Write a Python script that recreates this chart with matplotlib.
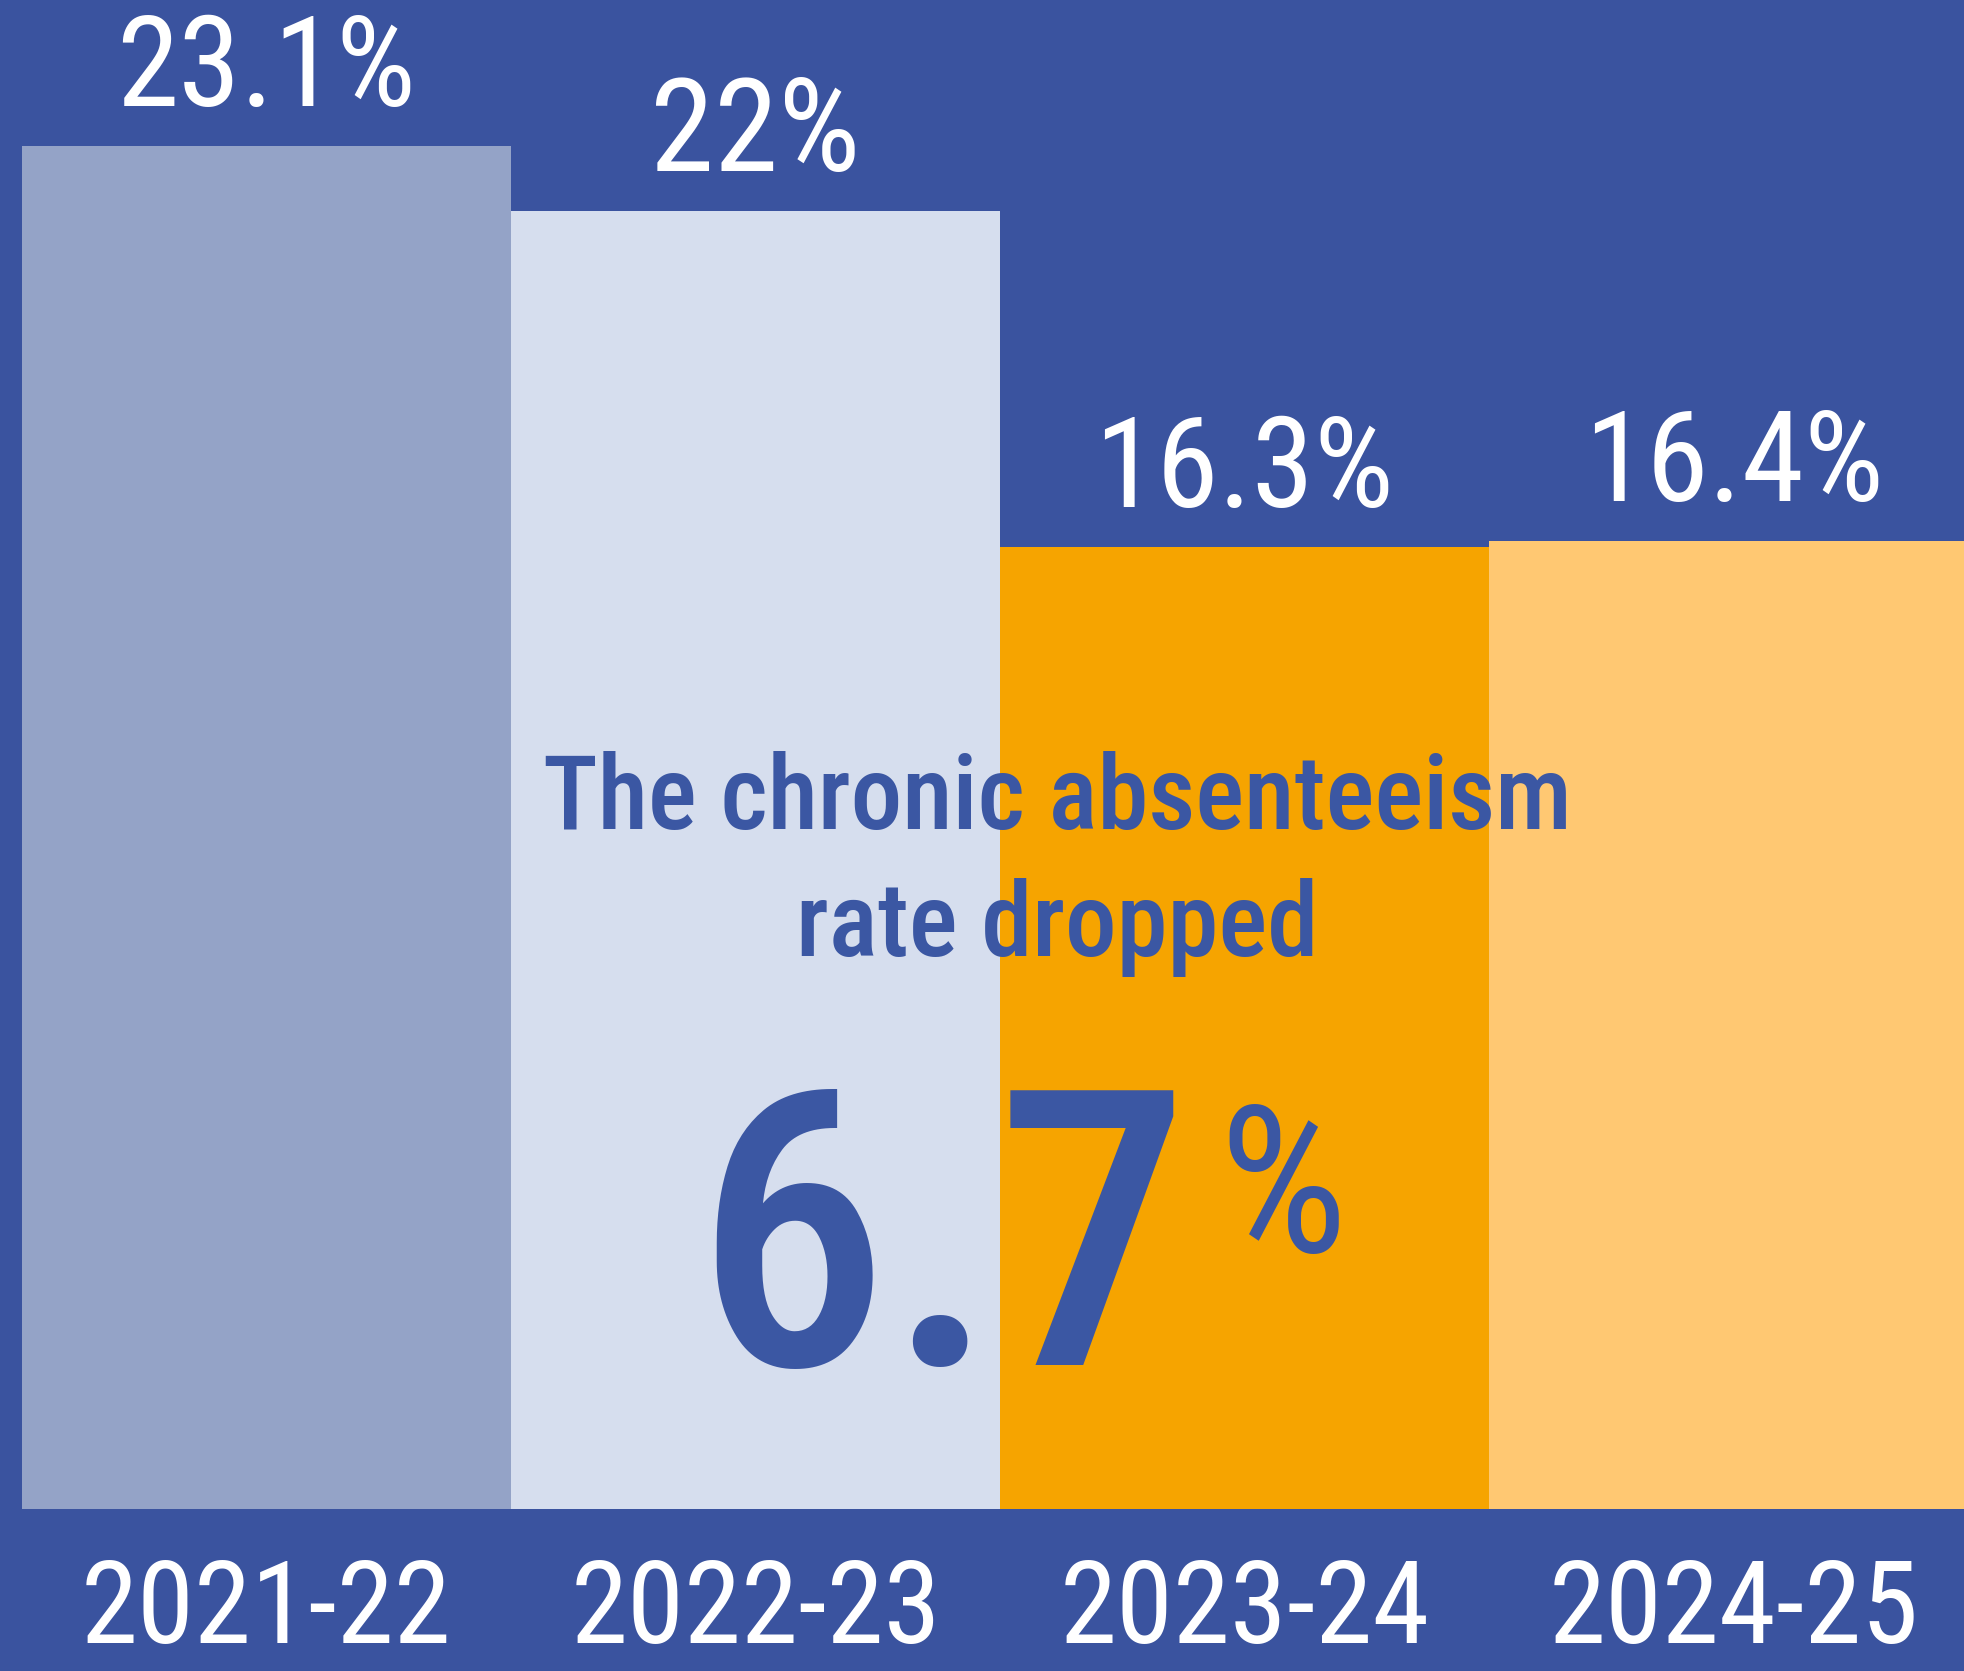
import os
import matplotlib
matplotlib.use("Agg")
import matplotlib.pyplot as plt
from matplotlib import font_manager as fm

# Chronic absenteeism rate by school year
years = ["2021-22", "2022-23", "2023-24", "2024-25"]
rates = [23.1, 22.0, 16.3, 16.4]
rate_labels = ["23.1%", "22%", "16.3%", "16.4%"]
bar_colors = ["#94A3C7", "#D6DEEE", "#F6A400", "#FFC872"]

headline_lines = ["The chronic absenteeism", "rate dropped"]
drop_value = "6.7"

BG = "#3A539F"
INK = "#3B57A3"


def pick_font(prefs):
    """Return the first condensed sans face found; fall back to DejaVu Sans."""
    files = sorted({f.fname for f in fm.fontManager.ttflist})
    for p in prefs:
        for f in files:
            if p in os.path.basename(f).lower().replace("_", ""):
                return fm.FontProperties(fname=f)
    return fm.FontProperties(family="DejaVu Sans")


FP_MED = pick_font(["robotocondensed-medium", "robotocondensed-regular",
                    "liberationsansnarrow-regular", "dejavusanscondensed.ttf"])
FP_REG = pick_font(["robotocondensed-regular", "robotocondensed-medium",
                    "liberationsansnarrow-regular", "dejavusanscondensed.ttf"])

W, H, DPI = 1964, 1671, 100
fig = plt.figure(figsize=(W / DPI, H / DPI), dpi=DPI, facecolor=BG)
ax = fig.add_axes([0, 0, 1, 1])
ax.set_facecolor(BG)

x = list(range(len(years)))
ax.bar(x, rates, width=1.0, color=bar_colors, linewidth=0, zorder=2)

# scale: ~59 px per percentage point, baseline 162 px above bottom edge
ax.set_ylim(-162 / 59, (H - 162) / 59)
ax.set_xlim(-266.5 / 489, -266.5 / 489 + W / 489)
ax.axis("off")

renderer = fig.canvas.get_renderer()


def fit(t, width_px, cap_px, slack):
    """Size a text by its cap height, shrinking it if it gets too wide."""
    size = cap_px / 0.71 * 72 / DPI
    t.set_fontsize(size)
    w = t.get_window_extent(renderer).width
    if w > width_px * slack:
        size *= width_px * slack / w
        t.set_fontsize(size)
    return size


for xi, v, lab in zip(x, rates, rate_labels):
    t = ax.annotate(lab, (xi, v), xytext=(0, 40), textcoords="offset pixels",
                    ha="center", va="baseline", color="white",
                    fontproperties=FP_REG, zorder=3)
    fit(t, 250 if "." in lab else 175, 94, slack=1.2)

for xi, yr in zip(x, years):
    t = ax.annotate(yr, (xi, 0), xytext=(0, -48), textcoords="offset pixels",
                    ha="center", va="top", color="white",
                    fontproperties=FP_REG, zorder=3)
    fit(t, 325, 100, slack=1.14)

# headline overlay
t1 = fig.text(1057 / W, 1 - 829 / H, headline_lines[0], ha="center",
              va="baseline", color=INK, fontproperties=FP_MED, zorder=4)
s = fit(t1, 962, 88, slack=1.07)
t2 = fig.text(1057 / W, 1 - 956 / H, headline_lines[1], ha="center",
              va="baseline", color=INK, fontproperties=FP_MED, zorder=4)
t2.set_fontsize(s)

big = fig.text(1190 / W, 1 - 1365 / H, drop_value, ha="right", va="baseline",
               color=INK, fontproperties=FP_MED, zorder=4)
fit(big, 420, 328, slack=1.18)
pct = fig.text(1218 / W, 1 - 1252 / H, "%", ha="left", va="baseline",
               color=INK, fontproperties=FP_REG, zorder=4)
fit(pct, 115, 169, slack=1.12)

fig.savefig("out.png", dpi=DPI, facecolor=BG)
